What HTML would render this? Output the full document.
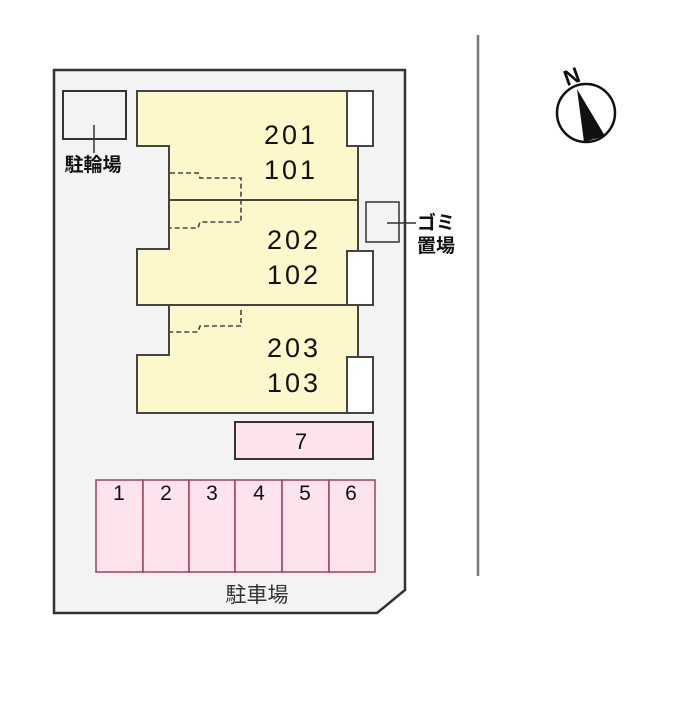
<!DOCTYPE html>
<html><head><meta charset="utf-8"><style>
html,body{margin:0;padding:0;background:#fff;width:696px;height:720px;overflow:hidden}
svg text{font-family:"Liberation Sans","Noto Sans CJK JP",sans-serif}
</style></head><body>
<svg width="696" height="720" viewBox="0 0 696 720" xmlns="http://www.w3.org/2000/svg">
<path d="M54 70 L405 70 L405 590 L377 613 L54 613 Z" fill="#f3f3f4" stroke="#333" stroke-width="2.5"/>
<line x1="478" y1="35" x2="478" y2="576" stroke="#777" stroke-width="2.5"/>
<path d="M137 91 L358 91 L358 200 L169 200 L169 146 L137 146 Z" fill="#fdf8cc" stroke="#444" stroke-width="2"/>
<path d="M169 200 L358 200 L358 305 L137 305 L137 249 L169 249 Z" fill="#fdf8cc" stroke="#444" stroke-width="2"/>
<path d="M169 305 L358 305 L358 413 L137 413 L137 355 L169 355 Z" fill="#fdf8cc" stroke="#444" stroke-width="2"/>
<g fill="none" stroke="#444" stroke-width="1.6" stroke-dasharray="5,3">
<path d="M170 173 L198 173 L200 178 L241 178 L241 222 L200 222 L198 228 L170 228"/>
<path d="M241 310 L241 326 L200 326 L198 332 L170 332"/>
</g>
<g fill="#fff" stroke="#444" stroke-width="2">
<rect x="347" y="91" width="26" height="55"/>
<rect x="347" y="251" width="26" height="54"/>
<rect x="347" y="357" width="26" height="56"/>
</g>
<g font-size="27" fill="#111" text-anchor="middle" letter-spacing="3">
<text x="291" y="144">201</text><text x="291" y="179">101</text>
<text x="294" y="249">202</text><text x="294" y="284">102</text>
<text x="294" y="357">203</text><text x="294" y="392">103</text>
</g>
<rect x="63" y="91" width="63" height="48" fill="#f3f3f4" stroke="#333" stroke-width="2"/>
<line x1="94" y1="125" x2="94" y2="153" stroke="#333" stroke-width="1.5"/>
<text x="93" y="171" font-size="19" font-weight="bold" text-anchor="middle" fill="#111">駐輪場</text>
<rect x="366" y="202" width="33" height="40" fill="#f3f3f4" stroke="#333" stroke-width="1.5"/>
<line x1="387" y1="223" x2="416" y2="223" stroke="#333" stroke-width="1.5"/>
<text x="417" y="229" font-size="19" font-weight="bold" fill="#111">ゴミ</text>
<text x="417" y="252" font-size="19" font-weight="bold" fill="#111">置場</text>
<rect x="235" y="422" width="138" height="37" fill="#fde3ee" stroke="#333" stroke-width="2"/>
<text x="301" y="449" font-size="22" text-anchor="middle" fill="#111">7</text>
<g fill="#fde3ee" stroke="#a0405a" stroke-width="1.5">
<rect x="96" y="480" width="47" height="92"/><rect x="143" y="480" width="46" height="92"/>
<rect x="189" y="480" width="46" height="92"/><rect x="235" y="480" width="47" height="92"/>
<rect x="282" y="480" width="47" height="92"/><rect x="329" y="480" width="46" height="92"/>
</g>
<g font-size="21" text-anchor="middle" fill="#111">
<text x="119" y="500">1</text><text x="166" y="500">2</text><text x="212" y="500">3</text>
<text x="259" y="500">4</text><text x="305" y="500">5</text><text x="351" y="500">6</text>
</g>
<text x="257" y="602" font-size="21" text-anchor="middle" fill="#333">駐車場</text>
<circle cx="586" cy="113" r="29" fill="#fff" stroke="#111" stroke-width="2.5"/>
<path d="M577 89 L584 142 L605 136 Z" fill="#111"/>
<text x="572" y="84" font-size="22" font-weight="bold" fill="#111" text-anchor="middle" transform="rotate(-20 572 77)">N</text>
</svg>
</body></html>
